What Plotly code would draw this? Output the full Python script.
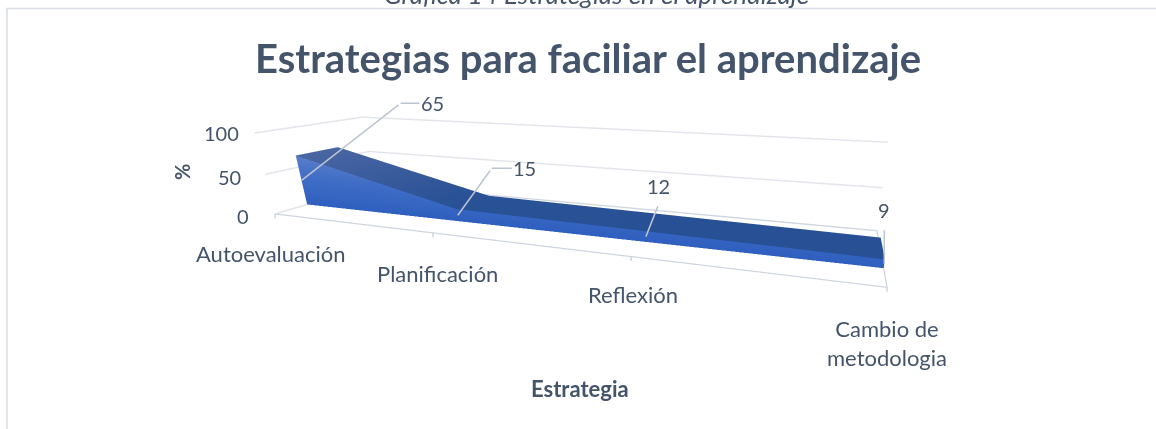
import plotly.graph_objects as go

categories = ["Autoevaluación", "Planificación", "Reflexión", "Cambio de<br>metodologia"]
values = [65, 15, 12, 9]
z_ticks = [0, 50, 100]
title = "Estrategias para faciliar el aprendizaje"
caption = "Gráfica 14 Estrategias en el aprendizaje"
x_title = "Estrategia"
y_title = "%"

TXT = "#44546a"
GRID = "#e2e5ea"
AX = "#cfd5de"
FONT = "Lato"
W, H = 1156, 429
Y0, Y1 = 0.28, 0.68
n = len(values)
xs = list(range(n))

fig = go.Figure()

def quads(nv_row):
    i, j, k = [], [], []
    for c in range(nv_row - 1):
        i += [c, c]
        j += [c + 1, c + nv_row + 1]
        k += [c + nv_row + 1, c + nv_row]
    return i, j, k

light = dict(ambient=1, diffuse=0, specular=0, roughness=1, fresnel=0)
FRONT = [[0, "#2f5fbf"], [0.55, "#3f6dc6"], [1, "#5a7dc8"]]
TOP = [[0, "#264f93"], [0.3, "#2a5296"], [1, "#4a66a3"]]

i, j, k = quads(n)
# front face
fig.add_trace(go.Mesh3d(x=xs + xs, y=[Y0] * (2 * n), z=[0] * n + values,
                        i=i, j=j, k=k, intensity=[0] * n + values, cmin=0, cmax=max(values),
                        colorscale=FRONT, showscale=False, lighting=light, flatshading=True, hoverinfo="skip"))
# top surface
fig.add_trace(go.Mesh3d(x=xs + xs, y=[Y0] * n + [Y1] * n, z=values + values,
                        i=i, j=j, k=k, intensity=values + values, cmin=0, cmax=max(values),
                        colorscale=TOP, showscale=False, lighting=light, flatshading=True, hoverinfo="skip"))
# right end
fig.add_trace(go.Mesh3d(x=[xs[-1]] * 4, y=[Y0, Y1, Y1, Y0], z=[0, 0, values[-1], values[-1]],
                        i=[0, 0], j=[1, 2], k=[2, 3], color="#274f93", lighting=light, flatshading=True, hoverinfo="skip"))
# left end
fig.add_trace(go.Mesh3d(x=[xs[0]] * 4, y=[Y0, Y1, Y1, Y0], z=[0, 0, values[0], values[0]],
                        i=[0, 0], j=[1, 2], k=[2, 3], color="#4a66a3", lighting=light, flatshading=True, hoverinfo="skip"))
# floor outline
fig.add_trace(go.Scatter3d(x=[0, 3, 3, 0, 0], y=[0, 0, 1, 1, 0], z=[0] * 5, mode="lines",
                           line=dict(color=AX, width=2.5), hoverinfo="skip", showlegend=False))

ann = []
# category labels and tick marks
for xi, cat, sx, sy in zip(xs, categories, [-4, 4, 2, 0], [-40, -41, -38, -56]):
    ann.append(dict(x=xi, y=0, z=0, text=cat, showarrow=False, xshift=sx, yshift=sy,
                    xanchor="center", yanchor="middle",
                    font=dict(family=FONT, size=22, color=TXT)))
    ann.append(dict(x=xi, y=0, z=0, text=" ", showarrow=True, arrowhead=0, arrowwidth=1.5, arrowcolor=AX,
                    ax=0, ay=7, standoff=0, font=dict(family=FONT, size=2, color=TXT)))
# value axis labels
for zv, sx, sy in zip(z_ticks, [-24, -22, -14], [-2, -3, 0]):
    ann.append(dict(x=0, y=0, z=zv, text=str(zv), showarrow=False, xanchor="right", yanchor="middle",
                    xshift=sx, yshift=sy, font=dict(family=FONT, size=20, color=TXT)))

# leader lines: elbow dx, dy from the anchor, then horizontal run to the label
leaders = [(99, -77, 12), (34, -47, 13), (13, -33, 0), (0, -36, 0)]
for xi, v, (dx, dy, run) in zip(xs, values, leaders):
    ann.append(dict(x=xi, y=Y0, z=v / 2, text=" ", showarrow=True, arrowhead=0, arrowwidth=1.5,
                    arrowcolor="#bcc4d0", ax=dx, ay=dy, standoff=0,
                    font=dict(family=FONT, size=2, color=TXT)))
    if run:
        ann.append(dict(x=xi, y=Y0, z=v / 2, text=str(v), showarrow=True, arrowhead=0, arrowwidth=1.5,
                        arrowcolor="#bcc4d0", ax=run + 20, ay=0, xshift=dx, yshift=-dy, standoff=0,
                        font=dict(family=FONT, size=20, color=TXT)))
    else:
        ann.append(dict(x=xi, y=Y0, z=v / 2, text=str(v), showarrow=False, xshift=dx, yshift=-dy + 18,
                        xanchor="center", yanchor="middle",
                        font=dict(family=FONT, size=20, color=TXT)))

ax_off = dict(showgrid=False, showline=False, zeroline=False, showticklabels=False,
              showbackground=False, showspikes=False, title="", ticks="")

def paper_text(text, px, py, **font):
    extra = font.pop("textangle", 0)
    return dict(text=text, xref="paper", yref="paper", x=px / W, y=1 - py / H, showarrow=False,
                xanchor="center", yanchor="middle", textangle=extra,
                font=dict(family=FONT, **font))

fig.update_layout(
    width=W, height=H, margin=dict(l=0, r=0, t=0, b=0),
    paper_bgcolor="white", showlegend=False,
    font=dict(family=FONT, color=TXT),
    scene=dict(
        domain=dict(x=[0.1765, 1], y=[0, 1]),
        aspectmode="manual", aspectratio=dict(x=1.1072, y=0.2341, z=0.1563),
        camera=dict(eye=dict(x=0.4698, y=-0.8018, z=0.2298),
                    center=dict(x=0.195, y=0.1086, z=-0.0792),
                    up=dict(x=0, y=0, z=1), projection=dict(type="perspective")),
        xaxis=dict(ax_off, range=[0, 3]),
        yaxis=dict(ax_off, range=[0, 1]),
        zaxis=dict(ax_off, range=[0, 100], tickvals=z_ticks, showgrid=True, gridcolor=GRID, gridwidth=3),
        annotations=ann,
    ),
    annotations=[
        paper_text(title, 588, 58, size=40, color=TXT, weight="bold"),
        paper_text(caption, 596, -6, size=26, color=TXT, style="italic"),
        paper_text(x_title, 580, 388, size=22, color=TXT, weight="bold"),
        paper_text(y_title, 182, 172, size=20, color=TXT, weight="bold", textangle=-90),
    ],
    shapes=[
        dict(type="line", xref="paper", yref="paper", x0=7 / W, x1=7 / W, y0=0, y1=1 - 8.5 / H,
             line=dict(color="#e1e6eb", width=2)),
        dict(type="line", xref="paper", yref="paper", x0=6 / W, x1=1, y0=1 - 8.5 / H, y1=1 - 8.5 / H,
             line=dict(color="#dcdfe8", width=1.5)),
    ],
)
fig.write_html("out.html", config={"displayModeBar": False},
               post_script="document.body.style.margin='0';document.body.style.overflow='hidden';")
